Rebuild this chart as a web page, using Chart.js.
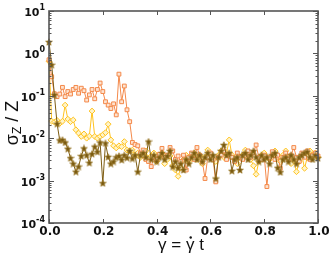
<!DOCTYPE html>
<html>
<head>
<meta charset="utf-8">
<script src="https://cdn.jsdelivr.net/npm/chart.js@4.4.0/dist/chart.umd.min.js"></script>
<style>
  html, body { margin: 0; padding: 0; background: #fff; }
</style>
</head>
<body>
<canvas id="chart" width="332" height="257"></canvas>
<script>
// strain gamma = gammadot * t
const gamma = [
  0.00, 0.01, 0.02, 0.03, 0.04, 0.05, 0.06, 0.07, 0.08, 0.09,
  0.10, 0.11, 0.12, 0.13, 0.14, 0.15, 0.16, 0.17, 0.18, 0.19,
  0.20, 0.21, 0.22, 0.23, 0.24, 0.25, 0.26, 0.27, 0.28, 0.29,
  0.30, 0.31, 0.32, 0.33, 0.34, 0.35, 0.36, 0.37, 0.38, 0.39,
  0.40, 0.41, 0.42, 0.43, 0.44, 0.45, 0.46, 0.47, 0.48, 0.49,
  0.50, 0.51, 0.52, 0.53, 0.54, 0.55, 0.56, 0.57, 0.58, 0.59,
  0.60, 0.61, 0.62, 0.63, 0.64, 0.65, 0.66, 0.67, 0.68, 0.69,
  0.70, 0.71, 0.72, 0.73, 0.74, 0.75, 0.76, 0.77, 0.78, 0.79,
  0.80, 0.81, 0.82, 0.83, 0.84, 0.85, 0.86, 0.87, 0.88, 0.89,
  0.90, 0.91, 0.92, 0.93, 0.94, 0.95, 0.96, 0.97, 0.98, 0.99,
  1.00
];

// sigma_Z / Z, orange squares
const sigmaSquares = [
  0.708, 0.282, 0.112, 0.0955, 0.110, 0.158, 0.0955, 0.126, 0.110, 0.141,
  0.158, 0.115, 0.151, 0.132, 0.0794, 0.105, 0.141, 0.0851, 0.141, 0.200,
  0.126, 0.0724, 0.0603, 0.0501, 0.0646, 0.0355, 0.324, 0.0724, 0.170, 0.0468,
  0.0245, 0.00794, 0.00708, 0.00661, 0.00447, 0.00525, 0.00316, 0.00282, 0.00214, 0.00355,
  0.00316, 0.00417, 0.00575, 0.00355, 0.00398, 0.00603, 0.00501, 0.00316, 0.00380, 0.00282,
  0.00398, 0.00178, 0.00355, 0.00447, 0.00316, 0.00603, 0.00398, 0.00282, 0.00112, 0.00355,
  0.00447, 0.00316, 0.000933, 0.00355, 0.00398, 0.00501, 0.00316, 0.00417, 0.00355, 0.00282,
  0.00447, 0.00355, 0.00316, 0.00398, 0.00501, 0.00355, 0.00447, 0.00692, 0.00355, 0.00316,
  0.00398, 0.000724, 0.00355, 0.00479, 0.00316, 0.00398, 0.00195, 0.00355, 0.00447, 0.00316,
  0.00398, 0.00603, 0.00355, 0.00282, 0.00447, 0.00355, 0.00501, 0.00316, 0.00398, 0.00447,
  0.00380
];

// yellow diamonds
const sigmaDiamonds = [
  0.65, 0.0251, 0.0240, 0.0263, 0.0224, 0.0251, 0.0603, 0.0282, 0.0245, 0.0269,
  0.0158, 0.0132, 0.0110, 0.0126, 0.0100, 0.0112, 0.0437, 0.0110, 0.0100, 0.0110,
  0.0120, 0.0135, 0.0214, 0.00912, 0.00661, 0.00589, 0.00661, 0.00631, 0.00832, 0.00525,
  0.00501, 0.00525, 0.00398, 0.00447, 0.00355, 0.00398, 0.00501, 0.00316, 0.00380, 0.00447,
  0.00282, 0.00355, 0.00447, 0.00251, 0.00316, 0.00380, 0.00224, 0.00178, 0.00126, 0.00200,
  0.00316, 0.00398, 0.00282, 0.00355, 0.00447, 0.00316, 0.00398, 0.00251, 0.00355, 0.00525,
  0.00398, 0.00316, 0.00282, 0.00398, 0.00501, 0.00355, 0.00447, 0.00912, 0.00398, 0.00316,
  0.00251, 0.00355, 0.00398, 0.00525, 0.00355, 0.00316, 0.00224, 0.00141, 0.00282, 0.00398,
  0.00447, 0.00355, 0.00316, 0.00398, 0.00501, 0.00355, 0.00282, 0.00398, 0.00501, 0.00355,
  0.00251, 0.00316, 0.00162, 0.00282, 0.00398, 0.00195, 0.00355, 0.00501, 0.00398, 0.00447,
  0.00355
];

// brown stars
const sigmaStars = [
  1.86, 0.537, 0.105, 0.0219, 0.00891, 0.00912, 0.00794, 0.00562, 0.00339, 0.00251,
  0.00162, 0.00214, 0.00380, 0.00575, 0.00398, 0.00263, 0.00427, 0.00631, 0.00479, 0.00794,
  0.000871, 0.00759, 0.00363, 0.00251, 0.00282, 0.00355, 0.00380, 0.00309, 0.00398, 0.00347,
  0.00501, 0.00331, 0.00398, 0.00162, 0.00398, 0.00447, 0.00355, 0.00832, 0.00316, 0.00398,
  0.00282, 0.00355, 0.00447, 0.00316, 0.00380, 0.00501, 0.00214, 0.00282, 0.00200, 0.00251,
  0.00178, 0.00316, 0.00251, 0.00355, 0.00447, 0.00316, 0.00398, 0.00282, 0.00355, 0.00447,
  0.00316, 0.00398, 0.00112, 0.00355, 0.00501, 0.00692, 0.00398, 0.00447, 0.00170, 0.00316,
  0.00355, 0.00178, 0.00398, 0.00447, 0.00316, 0.00398, 0.00501, 0.00355, 0.00282, 0.00398,
  0.00316, 0.00355, 0.00251, 0.00398, 0.00447, 0.00200, 0.00158, 0.00316, 0.00355, 0.00282,
  0.00398, 0.00316, 0.00251, 0.00355, 0.00398, 0.00447, 0.00479, 0.00355, 0.00316, 0.00398,
  0.00339
];

const xTicks = [0, 0.2, 0.4, 0.6, 0.8, 1.0];
const xTickLabels = ['0.0', '0.2', '0.4', '0.6', '0.8', '1.0'];
const yTicks = [10, 1, 0.1, 0.01, 0.001, 0.0001];
const yTickExponents = ['1', '0', '-1', '-2', '-3', '-4'];

const FONT = "'DejaVu Sans', sans-serif";
const TITLE_FONT = "'Liberation Sans', sans-serif";
const AXIS = '#555';

function starImage(size, fill, stroke) {
  const c = document.createElement('canvas');
  c.width = c.height = size;
  const g = c.getContext('2d');
  const cx = size / 2, cy = size / 2 + 0.3;
  const r = size / 2 - 0.4, ri = r * 0.45;
  g.beginPath();
  for (let k = 0; k < 10; k++) {
    const a = -Math.PI / 2 + k * Math.PI / 5;
    const rr = k % 2 ? ri : r;
    g.lineTo(cx + rr * Math.cos(a), cy + rr * Math.sin(a));
  }
  g.closePath();
  g.fillStyle = fill;
  g.fill();
  g.strokeStyle = stroke;
  g.lineWidth = 0.7;
  g.stroke();
  return c;
}

function pts(ys) {
  return gamma.map((g, i) => ({ x: g, y: ys[i] }));
}

const framePlugin = {
  id: 'frame',
  afterDraw(chart) {
    const { ctx, chartArea: a, scales } = chart;
    const x = scales.x, y = scales.y;
    ctx.save();
    ctx.strokeStyle = AXIS;
    ctx.lineWidth = 1;
    ctx.beginPath();
    xTicks.forEach(v => {
      const px = Math.round(x.getPixelForValue(v)) + 0.5;
      ctx.moveTo(px, a.bottom); ctx.lineTo(px, a.bottom - 4);
      ctx.moveTo(px, a.top); ctx.lineTo(px, a.top + 4);
    });
    yTicks.forEach(v => {
      const py = Math.round(y.getPixelForValue(v)) + 0.5;
      ctx.moveTo(a.left, py); ctx.lineTo(a.left + 5, py);
      ctx.moveTo(a.right, py); ctx.lineTo(a.right - 5, py);
    });
    for (let d = -4; d < 1; d++) {
      for (let m = 2; m < 10; m++) {
        const py = Math.round(y.getPixelForValue(m * Math.pow(10, d))) + 0.5;
        ctx.moveTo(a.left, py); ctx.lineTo(a.left + 2.5, py);
        ctx.moveTo(a.right, py); ctx.lineTo(a.right - 2.5, py);
      }
    }
    ctx.stroke();
    ctx.lineWidth = 1.6;
    ctx.strokeRect(a.left, a.top, a.right - a.left, a.bottom - a.top);

    ctx.fillStyle = '#111';
    // x tick labels
    ctx.font = 'bold 12px ' + FONT;
    ctx.textAlign = 'center';
    ctx.textBaseline = 'alphabetic';
    xTicks.forEach((v, i) => {
      ctx.fillText(xTickLabels[i], x.getPixelForValue(v) + 1, a.bottom + 12);
    });
    // y tick labels 10^n
    ctx.textAlign = 'left';
    yTicks.forEach((v, i) => {
      const py = y.getPixelForValue(v);
      ctx.font = 'bold 8px ' + FONT;
      const ew = ctx.measureText(yTickExponents[i]).width;
      ctx.font = 'bold 11px ' + FONT;
      const bw = ctx.measureText('10').width;
      const right = a.left - 4;
      ctx.fillText('10', right - ew - bw, py + 5);
      ctx.font = 'bold 8px ' + FONT;
      ctx.fillText(yTickExponents[i], right - ew, py - 1);
    });

    // x title: gamma = gamma-dot t
    ctx.font = '17px ' + TITLE_FONT;
    ctx.textAlign = 'left';
    const head = '\u03b3 = ';
    const full = '\u03b3 = \u03b3 t';
    const fw = ctx.measureText(full).width;
    const x0 = 181 - fw / 2;
    ctx.fillText(full, x0, 250);
    const hw = ctx.measureText(head).width;
    const gw = ctx.measureText('\u03b3').width;
    ctx.beginPath();
    ctx.arc(x0 + hw + gw / 2 + 0.5, 237.5, 1.2, 0, Math.PI * 2);
    ctx.fill();

    // y title (rotated)
    ctx.save();
    ctx.translate(18, 123);
    ctx.rotate(-Math.PI / 2);
    const big = '18px ' + TITLE_FONT;
    const small = '12px ' + TITLE_FONT;
    ctx.font = big;
    const w1 = ctx.measureText('\u03c3').width;
    const w3 = ctx.measureText(' / Z').width;
    ctx.font = small;
    const w2 = ctx.measureText('Z').width;
    let sx = -(w1 + w2 + w3) / 2;
    ctx.font = big;
    ctx.fillText('\u03c3', sx, 0);
    sx += w1;
    ctx.font = small;
    ctx.fillText('Z', sx, 3);
    sx += w2;
    ctx.font = big;
    ctx.fillText(' / Z', sx, 0);
    ctx.restore();

    ctx.restore();
  }
};

new Chart(document.getElementById('chart'), {
  type: 'line',
  data: {
    datasets: [
      {
        data: pts(sigmaStars),
        order: 0,
        borderColor: '#7d5c12',
        borderWidth: 1,
        pointStyle: starImage(8, '#7a5a10', '#a08030'),
        pointRadius: 3.5,
        tension: 0
      },
      {
        data: pts(sigmaSquares),
        order: 1,
        borderColor: '#f4894a',
        backgroundColor: '#fde3d0',
        borderWidth: 1,
        pointStyle: 'rect',
        pointRadius: 2.7,
        pointBorderWidth: 1,
        tension: 0
      },
      {
        data: pts(sigmaDiamonds),
        order: 2,
        borderColor: '#ffc21e',
        backgroundColor: '#fff4c8',
        borderWidth: 1,
        pointStyle: 'rectRot',
        pointRadius: 2.9,
        pointBorderWidth: 1,
        tension: 0
      }
    ]
  },
  options: {
    responsive: false,
    devicePixelRatio: 1,
    animation: false,
    events: [],
    layout: { padding: { left: 49, top: 11, right: 14, bottom: 34 } },
    plugins: { legend: { display: false }, tooltip: { enabled: false } },
    datasets: { line: { clip: 6 } },
    scales: {
      x: {
        type: 'linear', min: 0, max: 1,
        ticks: { display: false }, grid: { display: false }, border: { display: false },
        afterFit: s => { s.height = 0; }
      },
      y: {
        type: 'logarithmic', min: 0.0001, max: 10,
        ticks: { display: false }, grid: { display: false }, border: { display: false },
        afterFit: s => { s.width = 0; }
      }
    }
  },
  plugins: [framePlugin]
});
</script>
</body>
</html>
